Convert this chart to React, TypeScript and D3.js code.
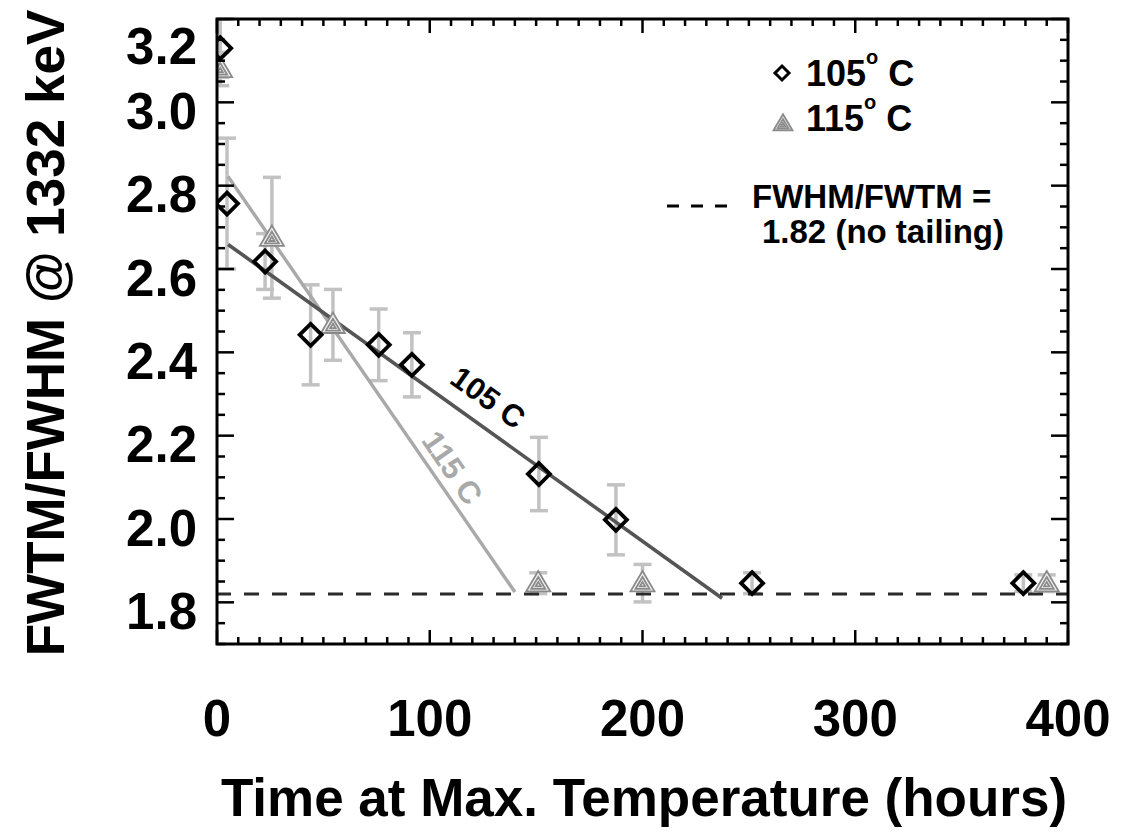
import React from 'react';
import * as d3 from 'd3';

// ---- data ----
const xTickValues = [0, 100, 200, 300, 400];
const yTickValues = [1.8, 2.0, 2.2, 2.4, 2.6, 2.8, 3.0, 3.2];

const time105 = [1.5, 4.7, 22.6, 44, 76, 91.6, 151.3, 187.5, 251.5, 379];
const ratio105 = [3.13, 2.757, 2.618, 2.442, 2.418, 2.37, 2.108, 1.998, 1.846, 1.846];
const err105 = [0.07, 0.157, 0.067, 0.12, 0.086, 0.077, 0.088, 0.084, 0.025, 0.02];

const time115 = [1.5, 25.8, 54.5, 151, 200, 390];
const ratio115 = [3.08, 2.675, 2.466, 1.846, 1.846, 1.846];
const err115 = [0.04, 0.145, 0.085, 0.025, 0.045, 0.02];

const fit105Time = [5.2, 237.4];
const fit105Ratio = [2.659, 1.81];
const fit115Time = [5.2, 140];
const fit115Ratio = [2.822, 1.825];

const noTailing = 1.82;

const label105 = { t: 127.4, v: 2.291, text: '105 C' };
const label115 = { t: 110.5, v: 2.123, text: '115 C' };

const FONT = '"Liberation Sans", Arial, Helvetica, sans-serif';

function diamondPath(cx: number, cy: number, r: number) {
  return `M${cx},${cy - r}L${cx + r},${cy}L${cx},${cy + r}L${cx - r},${cy}Z`;
}
function triPath(cx: number, cy: number, w: number) {
  const h = w * 0.85;
  return `M${cx},${cy - h * 0.6}L${cx + w / 2},${cy + h * 0.4}L${cx - w / 2},${cy + h * 0.4}Z`;
}
function Triangle({ cx, cy, w }: { cx: number; cy: number; w: number }) {
  return (
    <g fill="none" stroke="#8a8a8a" strokeWidth={1.8}>
      <path d={triPath(cx, cy, w)} fill="#f0f0f0" />
      <path d={triPath(cx, cy + w * 0.04, w * 0.58)} />
      <path d={triPath(cx, cy + w * 0.06, w * 0.22)} />
    </g>
  );
}

export default function App() {
  const W = 1141;
  const H = 832;
  const left = 217, right = 1068, top = 19, bottom = 644;
  const x = d3.scaleLinear().domain([0, 400]).range([left, right]);
  const y = d3.scaleLinear().domain([1.7, 3.2]).range([bottom, top]);

  const xMinor = d3.range(0, 400.001, 10);
  const yMinor = d3.range(0, 31).map((i) => 1.7 + i * 0.05);

  const line = d3.line<[number, number]>().x((d) => x(d[0])).y((d) => y(d[1]));
  const fit105 = fit105Time.map((t, i) => [t, fit105Ratio[i]] as [number, number]);
  const fit115 = fit115Time.map((t, i) => [t, fit115Ratio[i]] as [number, number]);

  const angle = (pts: [number, number][]) =>
    (Math.atan2(y(pts[1][1]) - y(pts[0][1]), x(pts[1][0]) - x(pts[0][0])) * 180) / Math.PI;
  const a105 = angle(fit105);
  const a115 = angle(fit115);

  const capW = 9;
  const errBar = (t: number, v: number, e: number, k: string) => (
    <g key={k} stroke="#c2c2c2" strokeWidth={3.5} fill="none">
      <line x1={x(t)} x2={x(t)} y1={y(v + e)} y2={y(v - e)} />
      <line x1={x(t) - capW} x2={x(t) + capW} y1={y(v + e)} y2={y(v + e)} />
      <line x1={x(t) - capW} x2={x(t) + capW} y1={y(v - e)} y2={y(v - e)} />
    </g>
  );

  return (
    <svg width={W} height={H} style={{ position: 'absolute', left: 0, top: 0, background: '#fff' }}>
      <defs>
        <clipPath id="plot">
          <rect x={left} y={top} width={right - left} height={bottom - top} />
        </clipPath>
      </defs>
      <rect x={0} y={0} width={W} height={H} fill="#fff" />

      <g clipPath="url(#plot)">
        {time105.map((t, i) => errBar(t, ratio105[i], err105[i], 'e5' + i))}
        {time115.map((t, i) => errBar(t, ratio115[i], err115[i], 'e15' + i))}
        <path d={line(fit115) || ''} stroke="#a9a9a9" strokeWidth={3.4} fill="none" />
        <path d={line(fit105) || ''} stroke="#555" strokeWidth={3.6} fill="none" />
        <line
          x1={left}
          x2={right}
          y1={y(noTailing)}
          y2={y(noTailing)}
          stroke="#2a2a2a"
          strokeWidth={2.8}
          strokeDasharray="15 13"
          strokeDashoffset={-27}
        />
        {time115.map((t, i) => (
          <Triangle key={'t' + i} cx={x(t)} cy={y(ratio115[i])} w={24} />
        ))}
        {time105.map((t, i) => (
          <path
            key={'d' + i}
            d={diamondPath(x(t), y(ratio105[i]), 11)}
            fill="none"
            stroke="#000"
            strokeWidth={3.8}
          />
        ))}
      </g>

      {/* line labels */}
      <text
        transform={`translate(${x(label105.t)},${y(label105.v)}) rotate(${a105})`}
        textAnchor="middle"
        dominantBaseline="central"
        fontFamily={FONT}
        fontWeight="bold"
        fontSize={31}
        fill="#000"
      >
        {label105.text}
      </text>
      <text
        transform={`translate(${x(label115.t)},${y(label115.v)}) rotate(${a115})`}
        textAnchor="middle"
        dominantBaseline="central"
        fontFamily={FONT}
        fontWeight="bold"
        fontSize={31}
        fill="#a9a9a9"
      >
        {label115.text}
      </text>

      {/* frame */}
      <rect x={left} y={top} width={right - left} height={bottom - top} fill="none" stroke="#000" strokeWidth={3} />

      {/* ticks */}
      <g stroke="#000" strokeWidth={2.5}>
        {xMinor.map((t, i) => {
          const major = Math.abs(t % 100) < 1e-6;
          const len = major ? 14 : 7;
          return (
            <g key={'xt' + i}>
              <line x1={x(t)} x2={x(t)} y1={bottom} y2={bottom - len} />
              <line x1={x(t)} x2={x(t)} y1={top} y2={top + len} />
            </g>
          );
        })}
        {yMinor.map((v, i) => {
          const major = i % 4 === 2;
          const len = major ? 17 : 8;
          return (
            <g key={'yt' + i}>
              <line x1={left} x2={left + len} y1={y(v)} y2={y(v)} />
              <line x1={right} x2={right - len} y1={y(v)} y2={y(v)} />
            </g>
          );
        })}
      </g>

      {/* tick labels */}
      <g fontFamily={FONT} fontWeight="bold" fontSize={51} fill="#000">
        {xTickValues.map((t) => (
          <text key={'xl' + t} x={x(t)} y={736} textAnchor="middle">
            {t}
          </text>
        ))}
        {yTickValues.map((v) => (
          <text
            key={'yl' + v}
            x={197}
            y={Math.max(y(v) + 9, top + 27)}
            textAnchor="end"
            dominantBaseline="central"
          >
            {v.toFixed(1)}
          </text>
        ))}
      </g>

      {/* axis titles */}
      <text
        x={644}
        y={816}
        textAnchor="middle"
        fontFamily={FONT}
        fontWeight="bold"
        fontSize={53}
      >
        Time at Max. Temperature (hours)
      </text>
      <text
        transform={`translate(64,333) rotate(-90)`}
        textAnchor="middle"
        fontFamily={FONT}
        fontWeight="bold"
        fontSize={53}
      >
        FWTM/FWHM @ 1332 keV
      </text>

      {/* legend */}
      <path d={diamondPath(782, 73, 7)} fill="none" stroke="#000" strokeWidth={3} />
      <text x={806} y={86} fontFamily={FONT} fontWeight="bold" fontSize={36}>
        105
        <tspan fontSize={20} dy={-22}>o</tspan>
        <tspan dy={22}> C</tspan>
      </text>
      <Triangle cx={783} cy={124} w={19} />
      <text x={806} y={131} fontFamily={FONT} fontWeight="bold" fontSize={36}>
        115
        <tspan fontSize={20} dy={-22}>o</tspan>
        <tspan dy={22}> C</tspan>
      </text>
      <line x1={667} x2={737} y1={206} y2={206} stroke="#000" strokeWidth={2.8} strokeDasharray="12 12" />
      <text x={752} y={208} fontFamily={FONT} fontWeight="bold" fontSize={33}>
        FWHM/FWTM =
      </text>
      <text x={762} y={243} fontFamily={FONT} fontWeight="bold" fontSize={33}>
        1.82 (no tailing)
      </text>
    </svg>
  );
}
